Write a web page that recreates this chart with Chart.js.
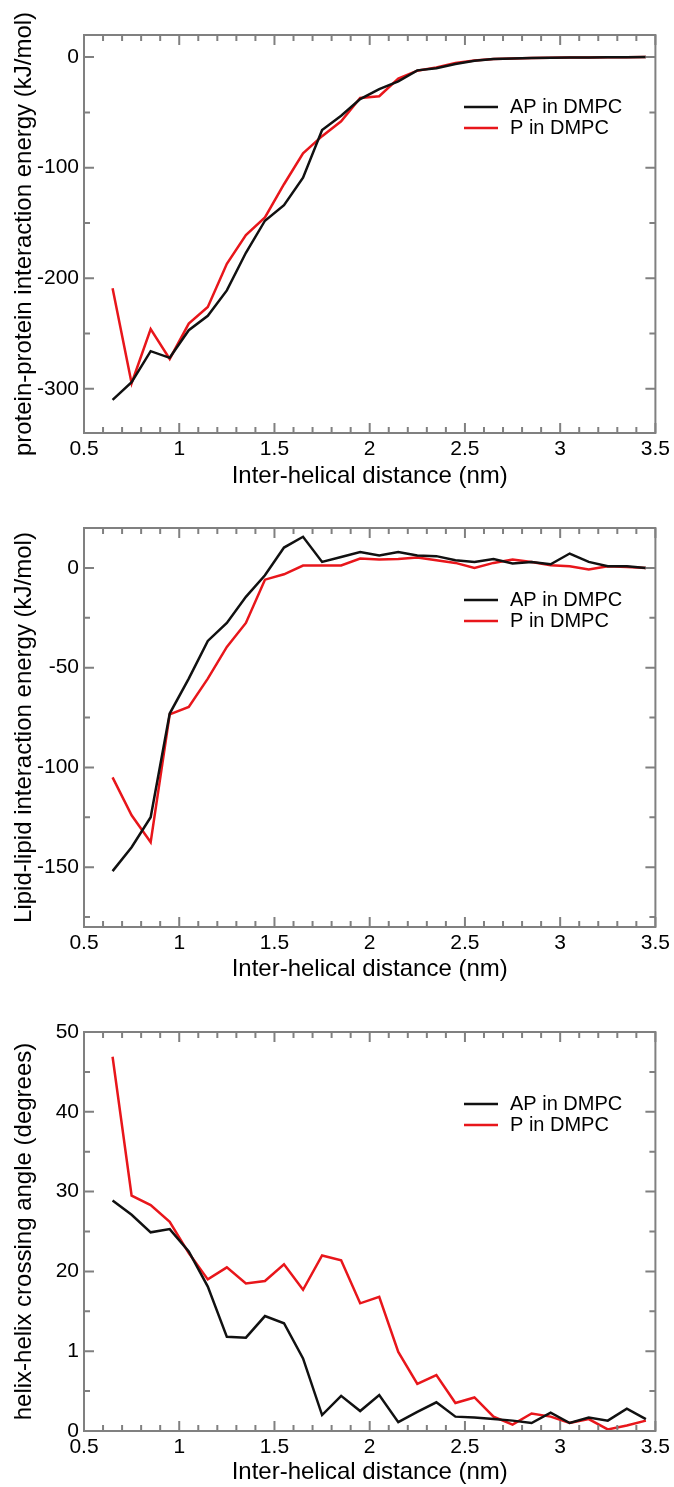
<!DOCTYPE html>
<html>
<head>
<meta charset="utf-8">
<script src="https://cdn.jsdelivr.net/npm/chart.js@4.4.0/dist/chart.umd.min.js"></script>
<style>
  body { margin: 0; background: #fff; }
  canvas { position: absolute; left: 0; }
</style>
</head>
<body>
<canvas id="c1" width="674" height="495" style="top:0px"></canvas>
<canvas id="c2" width="674" height="495" style="top:495px"></canvas>
<canvas id="c3" width="674" height="497" style="top:990px"></canvas>
<script>
// inter-helical distance (nm), same for all three panels
var distance = [0.65, 0.75, 0.85, 0.95, 1.05, 1.15, 1.25, 1.35, 1.45, 1.55,
                1.65, 1.75, 1.85, 1.95, 2.05, 2.15, 2.25, 2.35, 2.45, 2.55,
                2.65, 2.75, 2.85, 2.95, 3.05, 3.15, 3.25, 3.35, 3.45];

var seriesNames = ['AP in DMPC', 'P in DMPC'];

// protein-protein interaction energy (kJ/mol)
var protAP = [-310, -294, -266, -272, -247, -234, -211, -177, -148, -134,
              -109, -66, -53, -38, -29, -22, -12, -10, -6.3, -3.3,
              -1.8, -1.2, -0.9, -0.6, -0.4, -0.3, -0.2, -0.1, 0];
var protP  = [-209, -295, -246, -273, -241, -226, -187, -161, -145, -115,
              -87, -71.5, -58, -37, -35.4, -19.5, -12.3, -9.3, -5.4, -3,
              -1.8, -1.2, -0.8, -0.5, -0.4, -0.3, -0.2, -0.1, 0];

// lipid-lipid interaction energy (kJ/mol)
var lipidAP = [-152, -140, -125, -73, -55.5, -36.6, -27.6, -14.5, -3.7, 10.2,
               15.6, 3, 5.5, 7.9, 6.2, 7.9, 6.2, 5.9, 3.8, 3,
               4.5, 2.2, 3, 1.8, 7.2, 3, 0.8, 0.8, 0];
var lipidP  = [-105, -124, -137.5, -73.4, -69.7, -55.5, -39.6, -27.6, -5.9, -3.2,
               1.2, 1.2, 1.2, 4.7, 4.2, 4.5, 5.2, 3.8, 2.5, 0,
               2.5, 4.2, 3, 1.3, 0.8, -0.8, 0.8, 0.5, 0];

// helix-helix crossing angle (degrees)
var angleAP = [28.9, 27.1, 24.9, 25.3, 22.5, 18.1, 11.8, 11.7, 14.4, 13.5,
               9.1, 2.0, 4.4, 2.5, 4.5, 1.1, 2.4, 3.6, 1.8, 1.7,
               1.5, 1.3, 1.0, 2.3, 1.0, 1.7, 1.3, 2.8, 1.5];
var angleP  = [46.9, 29.5, 28.3, 26.2, 22.3, 19.0, 20.5, 18.5, 18.8, 20.9,
               17.7, 22.0, 21.4, 16.0, 16.8, 9.9, 5.9, 7.0, 3.5, 4.2,
               1.8, 0.8, 2.2, 1.8, 1.0, 1.5, 0.2, 0.7, 1.3];

var xTicks = [0.5, 1, 1.5, 2, 2.5, 3, 3.5];
var xTickLabels = ['0.5', '1', '1.5', '2', '2.5', '3', '3.5'];
var protTicks = [-300, -200, -100, 0];
var protTickLabels = ['-300', '-200', '-100', '0'];
var lipidTicks = [-150, -100, -50, 0];
var lipidTickLabels = ['-150', '-100', '-50', '0'];
var angleTicks = [0, 10, 20, 30, 40, 50];
var angleTickLabels = ['0', '1', '20', '30', '40', '50'];

Chart.defaults.font.family = "'Liberation Sans', Arial, Helvetica, sans-serif";
Chart.defaults.color = '#000';

var lineColors = ['#111111', '#e8161b'];

function pairs(xs, ys) {
  var out = [];
  for (var i = 0; i < xs.length; i++) out.push({x: xs[i], y: ys[i]});
  return out;
}

// grace-style frame with inward ticks on all four sides + inset legend
var framePlugin = {
  id: 'frame',
  afterDatasetsDraw: function(chart, args, opts) {
    var ctx = chart.ctx, a = chart.chartArea;
    ctx.save();
    ctx.strokeStyle = '#808080';
    ctx.lineWidth = 2;
    ctx.strokeRect(a.left, a.top, a.right - a.left, a.bottom - a.top);

    function marks(scale, n) {
      var v = scale.ticks.map(function(t) { return t.value; });
      var step = (v[1] - v[0]) / n, out = [];
      var start = v[0] - Math.floor((v[0] - scale.min) / step + 1e-6) * step;
      for (var val = start; val <= scale.max + 1e-6; val += step) {
        var major = v.some(function(t) { return Math.abs(t - val) < step / 10; });
        out.push({px: scale.getPixelForValue(val), len: major ? 10 : 6});
      }
      return out;
    }
    ctx.beginPath();
    marks(chart.scales.x, opts.xMinor).forEach(function(m) {
      ctx.moveTo(m.px, a.bottom); ctx.lineTo(m.px, a.bottom - m.len);
      ctx.moveTo(m.px, a.top); ctx.lineTo(m.px, a.top + m.len);
    });
    marks(chart.scales.y, opts.yMinor).forEach(function(m) {
      ctx.moveTo(a.left, m.px); ctx.lineTo(a.left + m.len, m.px);
      ctx.moveTo(a.right, m.px); ctx.lineTo(a.right - m.len, m.px);
    });
    ctx.stroke();

    // legend
    ctx.font = "20px 'Liberation Sans', Arial, sans-serif";
    ctx.textBaseline = 'middle';
    ctx.textAlign = 'left';
    chart.data.datasets.forEach(function(ds, i) {
      var y = a.top + 72 + i * 21;
      var x0 = a.left + 380;
      ctx.strokeStyle = ds.borderColor;
      ctx.lineWidth = 2.5;
      ctx.beginPath();
      ctx.moveTo(x0, y); ctx.lineTo(x0 + 34, y);
      ctx.stroke();
      ctx.fillStyle = '#000';
      ctx.fillText(ds.label, x0 + 46, y);
    });
    ctx.restore();
  }
};

function makeChart(id, yTitle, ap, p, yMin, yMax, yTicks, yLabels, yMinor, lay) {
  return new Chart(document.getElementById(id), {
    type: 'line',
    data: {
      datasets: [
        {label: seriesNames[0], data: pairs(distance, ap), borderColor: lineColors[0]},
        {label: seriesNames[1], data: pairs(distance, p), borderColor: lineColors[1]}
      ]
    },
    options: {
      responsive: false,
      animation: false,
      devicePixelRatio: 1,
      layout: {padding: {top: lay.top, right: 17, left: 0, bottom: 0}},
      elements: {
        line: {borderWidth: 2.5, tension: 0, fill: false},
        point: {radius: 0}
      },
      plugins: {
        legend: {display: false},
        tooltip: {enabled: false},
        frame: {xMinor: 5, yMinor: yMinor}
      },
      scales: {
        x: {
          type: 'linear', min: 0.5, max: 3.5,
          afterBuildTicks: function(s) { s.ticks = xTicks.map(function(v) { return {value: v}; }); },
          afterFit: function(s) { s.height = lay.xHeight; },
          grid: {display: false, drawTicks: false},
          border: {display: false},
          ticks: {
            padding: 4, font: {size: 21}, maxRotation: 0,
            callback: function(v) { return xTickLabels[xTicks.indexOf(v)]; }
          },
          title: {display: true, text: 'Inter-helical distance (nm)', font: {size: 24},
                  padding: {top: 0, bottom: lay.titleBottom}}
        },
        y: {
          type: 'linear', min: yMin, max: yMax,
          afterBuildTicks: function(s) { s.ticks = yTicks.map(function(v) { return {value: v}; }); },
          afterFit: function(s) { s.width = 84; },
          grid: {display: false, drawTicks: false},
          border: {display: false},
          ticks: {
            padding: 5, font: {size: 21},
            callback: function(v) { return yLabels[yTicks.indexOf(v)]; }
          },
          title: {display: true, text: yTitle, font: {size: 24}, padding: {top: 10, bottom: 0}}
        }
      }
    },
    plugins: [framePlugin]
  });
}

makeChart('c1', 'protein-protein interaction energy (kJ/mol)', protAP, protP,
          -340, 20, protTicks, protTickLabels, 2, {top: 35, xHeight: 62, titleBottom: 4});
makeChart('c2', 'Lipid-lipid interaction energy (kJ/mol)', lipidAP, lipidP,
          -180, 20, lipidTicks, lipidTickLabels, 2, {top: 33, xHeight: 63, titleBottom: 6});
makeChart('c3', 'helix-helix crossing angle (degrees)', angleAP, angleP,
          0, 50, angleTicks, angleTickLabels, 2, {top: 42, xHeight: 56, titleBottom: 0});
</script>
</body>
</html>
